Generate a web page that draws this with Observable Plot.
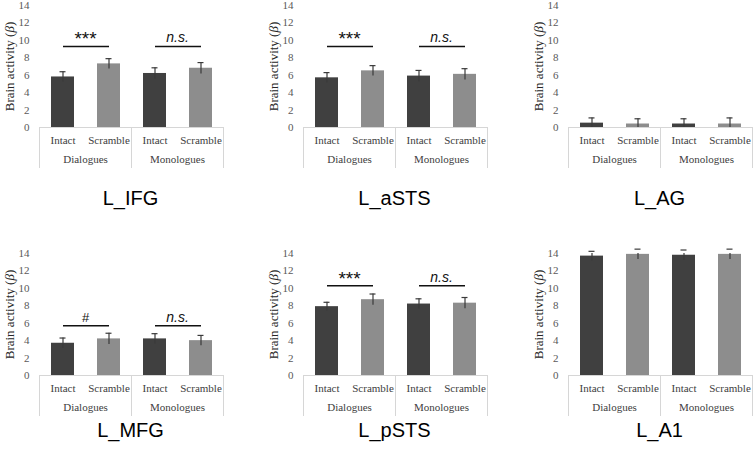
<!DOCTYPE html>
<html>
<head>
<meta charset="utf-8">
<script src="https://cdn.jsdelivr.net/npm/d3@7"></script>
<script src="https://cdn.jsdelivr.net/npm/@observablehq/plot@0.6"></script>
<style>
  body { margin: 0; background: #fff; }
  #chart { position: relative; width: 755px; height: 456px; overflow: hidden; background: #fff; }
  .panel { position: absolute; width: 250px; height: 170px; }
  .panel svg { max-width: none !important; font-family: "Liberation Serif", "Times New Roman", serif !important; }
  .title {
    position: absolute;
    font-family: "Liberation Sans", Arial, sans-serif;
    font-size: 20px;
    color: #000;
    transform: translate(-50%, -50%);
    white-space: nowrap;
  }
  g[aria-label^="y-axis"] text { fill: #595959; }
</style>
</head>
<body>
<div id="chart"></div>
<script>
// Regions of interest, one small bar chart each
const regions = ["L_IFG", "L_aSTS", "L_AG", "L_MFG", "L_pSTS", "L_A1"];
const groups = ["Dialogues", "Monologues"];
const conditions = ["Intact", "Scramble"];

// Mean beta per region, ordered Dialogues-Intact, Dialogues-Scramble, Monologues-Intact, Monologues-Scramble
const meanIFG  = [5.8, 7.3, 6.2, 6.8];
const meanASTS = [5.7, 6.5, 5.9, 6.1];
const meanAG   = [0.5, 0.4, 0.4, 0.4];
const meanMFG  = [3.7, 4.2, 4.2, 4.0];
const meanPSTS = [7.9, 8.7, 8.2, 8.3];
const meanA1   = [13.7, 13.9, 13.8, 13.9];

// Standard errors in the same order
const errIFG  = [0.6, 0.6, 0.65, 0.65];
const errASTS = [0.6, 0.6, 0.65, 0.65];
const errAG   = [0.6, 0.6, 0.6, 0.7];
const errMFG  = [0.6, 0.65, 0.6, 0.6];
const errPSTS = [0.5, 0.65, 0.6, 0.65];
const errA1   = [0.55, 0.6, 0.6, 0.6];

// Significance of Intact vs Scramble within each group (null = no bracket)
const sigIFG  = ["***", "n.s."];
const sigASTS = ["***", "n.s."];
const sigAG   = null;
const sigMFG  = ["#", "n.s."];
const sigPSTS = ["***", "n.s."];
const sigA1   = null;

// Height (beta) at which each bracket is drawn
const bracketLevel = [9.3, 9.3, null, 5.7, 10.3, null];

const yTicks = [0, 2, 4, 6, 8, 10, 12, 14];
const yLabel = "Brain activity (β)";
const barColors = ["#404040", "#8d8d8d"];

const means = [meanIFG, meanASTS, meanAG, meanMFG, meanPSTS, meanA1];
const errs = [errIFG, errASTS, errAG, errMFG, errPSTS, errA1];
const sigs = [sigIFG, sigASTS, sigAG, sigMFG, sigPSTS, sigA1];

// Panel layout
const W = 250, H = 170;
const M = {top: 5, right: 27, bottom: 43, left: 38};
const colLeft = [0, 264, 529];
const rowTop = [0, 248];
const titleY = [198, 430];
const plotH = H - M.top - M.bottom;

const chart = document.getElementById("chart");

regions.forEach((region, r) => {
  const rows = means[r].map((m, i) => ({
    group: groups[Math.floor(i / 2)],
    cond: conditions[i % 2],
    mean: m,
    err: errs[r][i]
  }));
  const sig = sigs[r]
    ? groups.map((g, k) => ({group: g, label: sigs[r][k], level: bracketLevel[r]}))
    : [];

  const marks = [
    Plot.ruleY([0], {stroke: "#d6d6d6", strokeWidth: 1}),
    Plot.frame({anchor: "left", stroke: "#d6d6d6", insetTop: plotH, insetBottom: -40}),
    Plot.frame({anchor: "right", stroke: "#d6d6d6", insetTop: plotH, insetBottom: -40}),
    Plot.barY(rows, {fx: "group", x: "cond", y: "mean", fill: "cond"}),
    Plot.ruleX(rows, {
      fx: "group", x: "cond",
      y1: d => d.mean - d.err, y2: d => d.mean + d.err,
      stroke: "#3a3a3a", strokeWidth: 1.2, clip: true
    }),
    Plot.tickY(rows, {
      fx: "group", x: "cond", y: d => d.mean + d.err,
      insetLeft: 8.5, insetRight: 8.5, stroke: "#3a3a3a", strokeWidth: 1.2
    }),
    Plot.link(sig, {
      fx: "group", x1: () => "Intact", x2: () => "Scramble",
      y1: "level", y2: "level", stroke: "#111", strokeWidth: 1.5
    }),
    Plot.text(sig.filter(d => d.label === "***"), {
      fx: "group", y: "level", text: "label", lineAnchor: "bottom", dy: -1,
      fontFamily: "Liberation Sans, Arial, sans-serif", fontSize: 19, fill: "#111"
    }),
    Plot.text(sig.filter(d => d.label === "#"), {
      fx: "group", y: "level", text: "label", lineAnchor: "bottom", dy: -4,
      fontFamily: "Liberation Sans, Arial, sans-serif", fontSize: 13, fill: "#111"
    }),
    Plot.text(sig.filter(d => d.label === "n.s."), {
      fx: "group", y: "level", text: "label", lineAnchor: "bottom", dy: -4,
      fontFamily: "Liberation Sans, Arial, sans-serif", fontSize: 14, fontStyle: "italic", fill: "#111"
    }),
    Plot.text([{group: groups[0]}], {
      fx: "group", text: () => yLabel, frameAnchor: "left", textAnchor: "middle",
      rotate: -90, dx: -30, fontSize: 13, fill: "#262626"
    })
  ];

  const svg = Plot.plot({
    width: W,
    height: H,
    marginTop: M.top,
    marginRight: M.right,
    marginBottom: M.bottom,
    marginLeft: M.left,
    style: {fontSize: "11px", color: "#404040", background: "transparent", overflow: "visible"},
    fx: {domain: groups, padding: 0, axis: "bottom", tickSize: 0, tickPadding: 28, label: null},
    x: {domain: conditions, paddingInner: 0.5, paddingOuter: 0.25, axis: "bottom", tickSize: 0, tickPadding: 9, label: null},
    y: {domain: [0, 14], ticks: yTicks, tickSize: 0, tickPadding: 10, label: null},
    color: {domain: conditions, range: barColors},
    marks
  });

  // italic beta in the axis title
  d3.select(svg).selectAll("text").filter(function () { return this.textContent === yLabel; })
    .each(function () {
      const t = d3.select(this);
      t.text(null);
      t.append("tspan").text("Brain activity (");
      t.append("tspan").attr("font-style", "italic").text("β");
      t.append("tspan").text(")");
    });

  const col = r % 3, row = Math.floor(r / 3);
  const panel = document.createElement("div");
  panel.className = "panel";
  panel.style.left = colLeft[col] + "px";
  panel.style.top = rowTop[row] + "px";
  panel.appendChild(svg);
  chart.appendChild(panel);

  const title = document.createElement("div");
  title.className = "title";
  title.textContent = region;
  title.style.left = (colLeft[col] + M.left + (W - M.left - M.right) / 2) + "px";
  title.style.top = titleY[row] + "px";
  chart.appendChild(title);
});
</script>
</body>
</html>
